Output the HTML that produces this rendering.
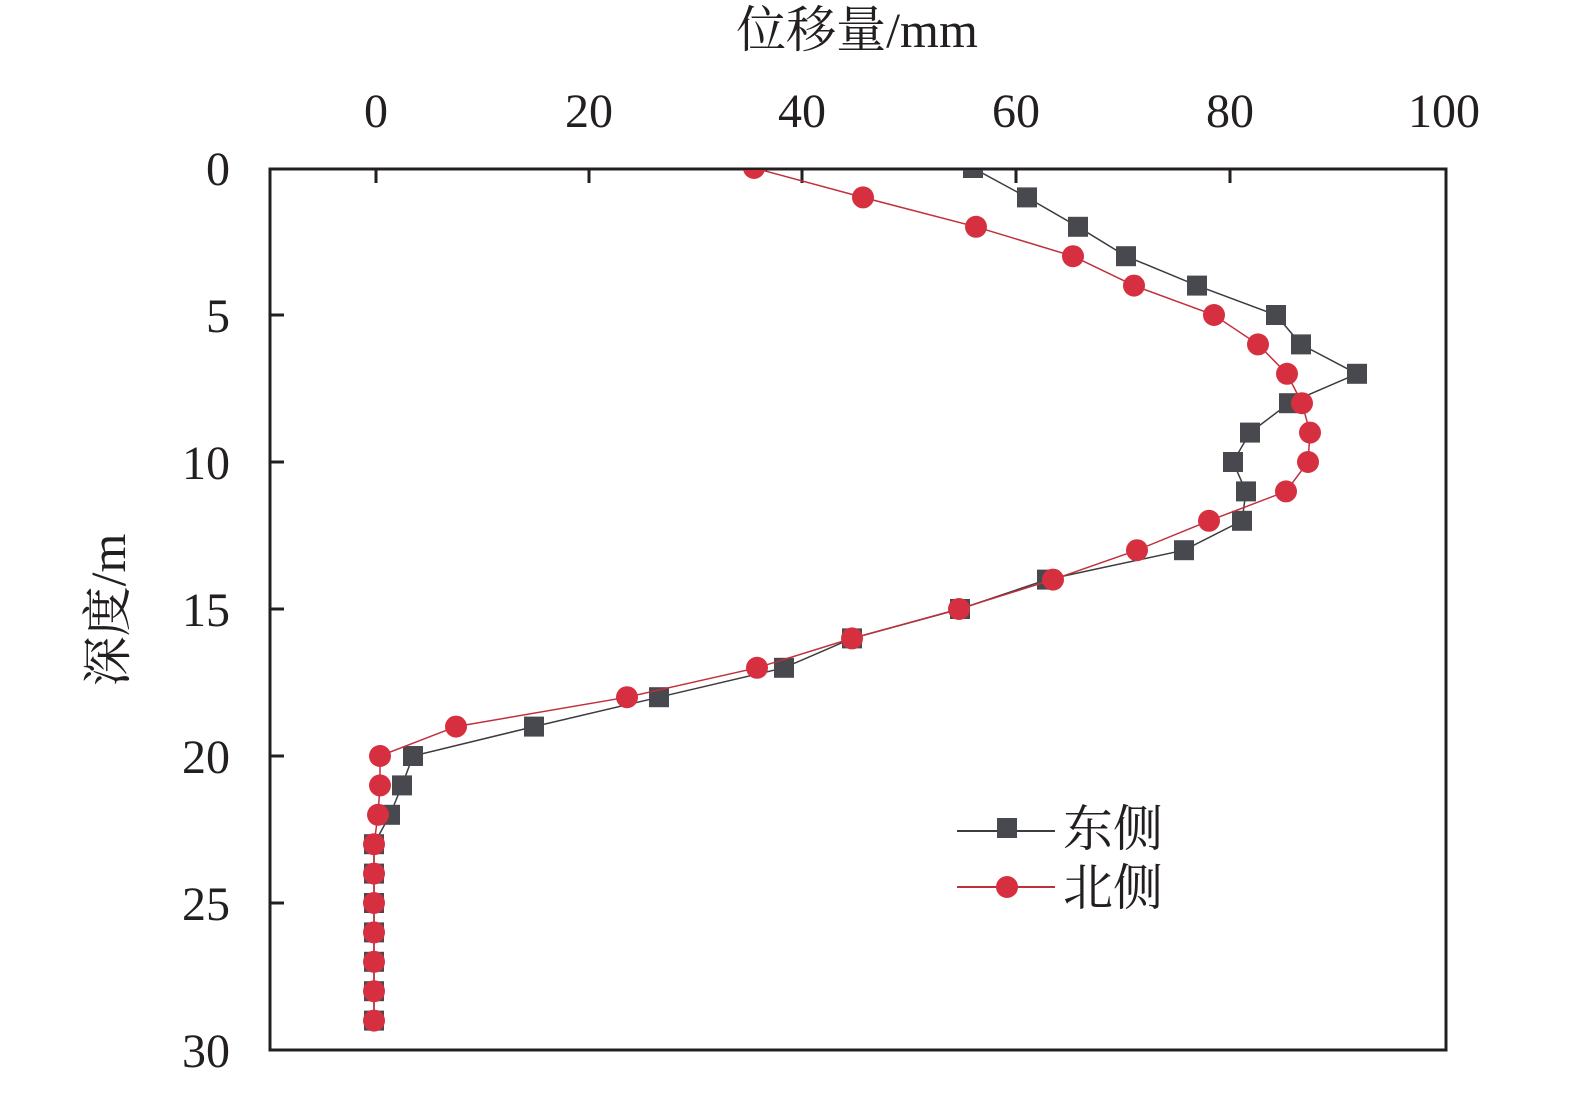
<!DOCTYPE html>
<html><head><meta charset="utf-8"><style>
html,body{margin:0;padding:0;background:#fff;overflow:hidden;width:1575px;height:1093px;}
svg{display:block;}
text{font-family:"Liberation Serif","Noto Serif CJK SC",serif;fill:#231f20;}
</style></head><body>
<svg width="1575" height="1093" viewBox="0 0 1575 1093" xmlns="http://www.w3.org/2000/svg">
<defs><clipPath id="c"><rect x="270" y="170" width="1175" height="880"/></clipPath></defs>
<text x="857" y="47" font-size="50" text-anchor="middle">位移量/mm</text>
<g font-size="48" text-anchor="middle">
<text x="376" y="127">0</text><text x="589" y="127">20</text><text x="802" y="127">40</text><text x="1016" y="127">60</text><text x="1230" y="127">80</text><text x="1444" y="127">100</text>
</g>
<g font-size="48" text-anchor="end">
<text x="230" y="185">0</text><text x="230" y="332">5</text><text x="230" y="479">10</text><text x="230" y="626">15</text><text x="230" y="773">20</text><text x="230" y="920">25</text><text x="230" y="1067">30</text>
</g>
<text transform="translate(125,610) rotate(-90)" font-size="50" text-anchor="middle">深度/m</text>
<rect x="270" y="169" width="1176" height="881" fill="none" stroke="#231f20" stroke-width="3"/>
<g stroke="#231f20" stroke-width="3">
<line x1="376" y1="169" x2="376" y2="183"/><line x1="589" y1="169" x2="589" y2="183"/><line x1="802" y1="169" x2="802" y2="183"/><line x1="1016" y1="169" x2="1016" y2="183"/><line x1="1230" y1="169" x2="1230" y2="183"/>
<line x1="270" y1="315" x2="284" y2="315"/><line x1="270" y1="462" x2="284" y2="462"/><line x1="270" y1="609" x2="284" y2="609"/><line x1="270" y1="756" x2="284" y2="756"/><line x1="270" y1="903" x2="284" y2="903"/>
</g>
<g clip-path="url(#c)">
<polyline fill="none" stroke="#3c3c40" stroke-width="1.5" points="973,168 1027,197.4 1078,226.8 1126,256.2 1197,285.6 1276,315 1301,344.4 1357,373.8 1289,403.2 1250,432.6 1233,462 1246,491.4 1242,520.8 1184,550.2 1047,579.6 960,609 852,638.4 784,667.8 659,697.2 534,726.6 413,756 402,785.4 390,814.8 374,844.2 374,873.6 374,903 374,932.4 374,961.8 374,991.2 374,1020.6"/>
<g fill="#48494e">
<rect x="963" y="158" width="20" height="20"/><rect x="1017" y="187.4" width="20" height="20"/><rect x="1068" y="216.8" width="20" height="20"/><rect x="1116" y="246.2" width="20" height="20"/><rect x="1187" y="275.6" width="20" height="20"/><rect x="1266" y="305" width="20" height="20"/><rect x="1291" y="334.4" width="20" height="20"/><rect x="1347" y="363.8" width="20" height="20"/><rect x="1279" y="393.2" width="20" height="20"/><rect x="1240" y="422.6" width="20" height="20"/><rect x="1223" y="452" width="20" height="20"/><rect x="1236" y="481.4" width="20" height="20"/><rect x="1232" y="510.8" width="20" height="20"/><rect x="1174" y="540.2" width="20" height="20"/><rect x="1037" y="569.6" width="20" height="20"/><rect x="950" y="599" width="20" height="20"/><rect x="842" y="628.4" width="20" height="20"/><rect x="774" y="657.8" width="20" height="20"/><rect x="649" y="687.2" width="20" height="20"/><rect x="524" y="716.6" width="20" height="20"/><rect x="403" y="746" width="20" height="20"/><rect x="392" y="775.4" width="20" height="20"/><rect x="380" y="804.8" width="20" height="20"/><rect x="364" y="834.2" width="20" height="20"/><rect x="364" y="863.6" width="20" height="20"/><rect x="364" y="893" width="20" height="20"/><rect x="364" y="922.4" width="20" height="20"/><rect x="364" y="951.8" width="20" height="20"/><rect x="364" y="981.2" width="20" height="20"/><rect x="364" y="1010.6" width="20" height="20"/>
</g>
<polyline fill="none" stroke="#c0303c" stroke-width="1.5" points="754,168 863,197.4 976,226.8 1073,256.2 1134,285.6 1214,315 1258,344.4 1287,373.8 1302,403.2 1310,432.6 1308,462 1286,491.4 1209,520.8 1137,550.2 1053,579.6 959,609 852,638.4 757,667.8 627,697.2 456,726.6 380,756 380,785.4 378,814.8 374,844.2 374,873.6 374,903 374,932.4 374,961.8 374,991.2 374,1020.6"/>
<g fill="#d63040">
<circle cx="754" cy="168" r="11"/><circle cx="863" cy="197.4" r="11"/><circle cx="976" cy="226.8" r="11"/><circle cx="1073" cy="256.2" r="11"/><circle cx="1134" cy="285.6" r="11"/><circle cx="1214" cy="315" r="11"/><circle cx="1258" cy="344.4" r="11"/><circle cx="1287" cy="373.8" r="11"/><circle cx="1302" cy="403.2" r="11"/><circle cx="1310" cy="432.6" r="11"/><circle cx="1308" cy="462" r="11"/><circle cx="1286" cy="491.4" r="11"/><circle cx="1209" cy="520.8" r="11"/><circle cx="1137" cy="550.2" r="11"/><circle cx="1053" cy="579.6" r="11"/><circle cx="959" cy="609" r="11"/><circle cx="852" cy="638.4" r="11"/><circle cx="757" cy="667.8" r="11"/><circle cx="627" cy="697.2" r="11"/><circle cx="456" cy="726.6" r="11"/><circle cx="380" cy="756" r="11"/><circle cx="380" cy="785.4" r="11"/><circle cx="378" cy="814.8" r="11"/><circle cx="374" cy="844.2" r="11"/><circle cx="374" cy="873.6" r="11"/><circle cx="374" cy="903" r="11"/><circle cx="374" cy="932.4" r="11"/><circle cx="374" cy="961.8" r="11"/><circle cx="374" cy="991.2" r="11"/><circle cx="374" cy="1020.6" r="11"/>
</g>
</g>
<line x1="957" y1="831" x2="1055" y2="831" stroke="#3c3c40" stroke-width="2"/>
<rect x="997" y="818" width="20" height="20" fill="#48494e"/>
<line x1="957" y1="887" x2="1055" y2="887" stroke="#c0303c" stroke-width="2"/>
<circle cx="1007" cy="887" r="11" fill="#d63040"/>
<text x="1063" y="846" font-size="50">东侧</text>
<text x="1063" y="905" font-size="50">北侧</text>
</svg>
</body></html>
